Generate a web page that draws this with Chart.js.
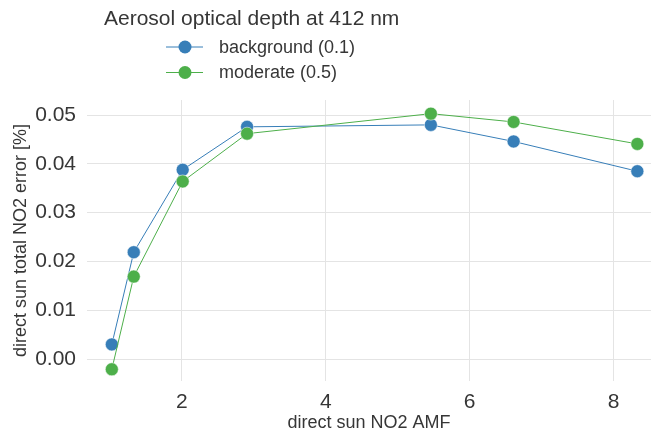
<!DOCTYPE html>
<html>
<head>
<meta charset="utf-8">
<script src="https://cdn.jsdelivr.net/npm/chart.js@4"></script>
<style>
  html, body { margin: 0; padding: 0; background: #fff; }
  #wrap { width: 652px; height: 430px; }
</style>
</head>
<body>
<div id="wrap"><canvas id="aodChart" width="652" height="430"></canvas></div>
<script>
// direct sun NO2 AMF at each geometry
const amf = [1.025, 1.33, 2.01, 2.905, 5.46, 6.61, 8.33];
// total NO2 error for each aerosol load
const errBackground = [0.0030, 0.0219, 0.0388, 0.0476, 0.0480, 0.0446, 0.0385];
const errModerate = [-0.0021, 0.0169, 0.0364, 0.0462, 0.0503, 0.0486, 0.0441];
const seriesNames = ['background (0.1)', 'moderate (0.5)'];
const legendTitle = 'Aerosol optical depth at 412 nm';

const FONT = "'Liberation Sans', Arial, sans-serif";
const TEXT = '#363636';
const BLUE = '#377eb8';
const GREEN = '#4daf4a';

function toPoints(xs, ys) {
    return xs.map((x, i) => ({ x: x, y: ys[i] }));
}

// legend with title, drawn in the top-left free space
const legendBox = {
    id: 'legendBox',
    afterDraw(chart) {
        const ctx = chart.ctx;
        ctx.save();
        ctx.fillStyle = TEXT;
        ctx.textBaseline = 'middle';
        ctx.textAlign = 'left';
        ctx.font = '21px ' + FONT;
        ctx.fillText(legendTitle, 104, 19);
        chart.data.datasets.forEach((ds, i) => {
            const y = 47 + i * 25.5;
            ctx.strokeStyle = ds.borderColor;
            ctx.lineWidth = 1;
            ctx.beginPath();
            ctx.moveTo(166, y);
            ctx.lineTo(203, y);
            ctx.stroke();
            ctx.fillStyle = ds.pointBackgroundColor;
            ctx.beginPath();
            ctx.arc(185, y, 6.5, 0, Math.PI * 2);
            ctx.fill();
            ctx.fillStyle = TEXT;
            ctx.font = '18px ' + FONT;
            ctx.fillText(ds.label, 219, y + 1);
        });
        ctx.restore();
    }
};

window.addEventListener('DOMContentLoaded', () => {
    const ctx = document.getElementById('aodChart').getContext('2d');
    const lineStyle = (color) => ({
        borderColor: color,
        backgroundColor: color,
        pointBackgroundColor: color,
        pointBorderColor: '#ffffff',
        pointBorderWidth: 0.5,
        pointRadius: 6.5,
        borderWidth: 1,
        showLine: true,
        tension: 0,
        clip: false
    });

    new Chart(ctx, {
        type: 'scatter',
        data: {
            datasets: [
                Object.assign({ label: seriesNames[0], data: toPoints(amf, errBackground), order: 2 }, lineStyle(BLUE)),
                Object.assign({ label: seriesNames[1], data: toPoints(amf, errModerate), order: 1 }, lineStyle(GREEN))
            ]
        },
        options: {
            responsive: false,
            animation: false,
            layout: { autoPadding: false, padding: { top: 100, right: 1, left: 0, bottom: 0 } },
            plugins: {
                legend: { display: false },
                tooltip: { enabled: false }
            },
            scales: {
                x: {
                    type: 'linear',
                    min: 0.68,
                    max: 8.52,
                    border: { display: false },
                    grid: { color: '#e4e4e4', lineWidth: 1, drawTicks: false },
                    ticks: {
                        stepSize: 2,
                        includeBounds: false,
                        color: TEXT,
                        font: { family: FONT, size: 21 },
                        padding: 9
                    },
                    title: {
                        display: true,
                        text: 'direct sun NO2 AMF',
                        color: TEXT,
                        font: { family: FONT, size: 18, lineHeight: 0.8 },
                        padding: { top: 0, bottom: 0 }
                    },
                    afterFit(scale) {
                        scale.height = 49;
                        scale.paddingLeft = 0;
                        scale.paddingRight = 0;
                    }
                },
                y: {
                    min: -0.0045,
                    max: 0.0531,
                    border: { display: false },
                    grid: { color: '#e4e4e4', lineWidth: 1, drawTicks: false },
                    ticks: {
                        stepSize: 0.01,
                        includeBounds: false,
                        color: TEXT,
                        font: { family: FONT, size: 21 },
                        padding: 11,
                        callback: (v) => v.toFixed(2)
                    },
                    title: {
                        display: true,
                        text: 'direct sun total NO2 error [%]',
                        color: TEXT,
                        font: { family: FONT, size: 18, lineHeight: 1.2 },
                        padding: { top: 10, bottom: 0 }
                    },
                    afterFit(scale) {
                        scale.width = 87;
                        scale.paddingTop = 0;
                        scale.paddingBottom = 0;
                    }
                }
            }
        },
        plugins: [legendBox]
    });
});
</script>
</body>
</html>
